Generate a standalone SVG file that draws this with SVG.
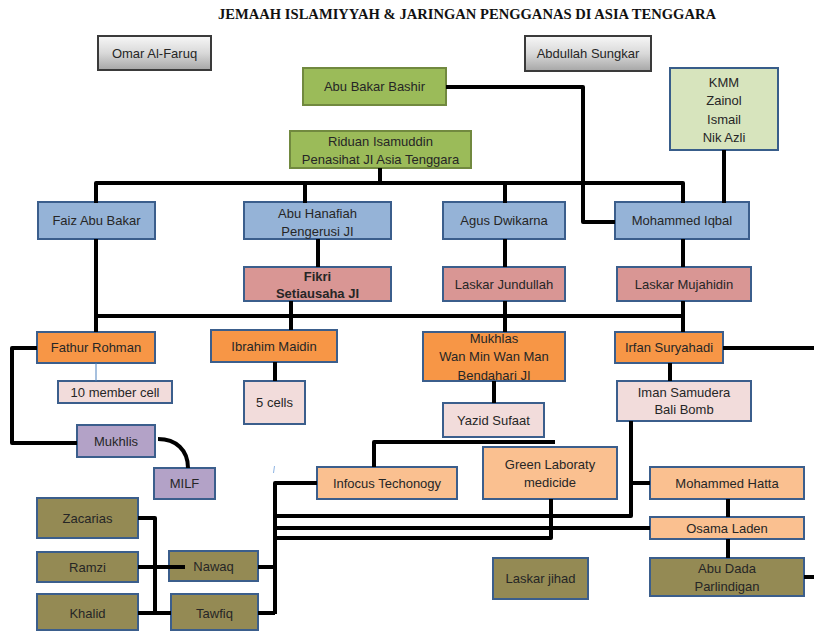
<svg xmlns="http://www.w3.org/2000/svg" width="814" height="631" viewBox="0 0 814 631">
<defs>
<linearGradient id="gray" x1="0" y1="0" x2="0" y2="1">
<stop offset="0" stop-color="#f7f7f7"/>
<stop offset="0.5" stop-color="#d9d9d9"/>
<stop offset="1" stop-color="#a6a6a6"/>
</linearGradient>
<style>
.t{font-family:"Liberation Sans",Arial,sans-serif;font-size:13px;fill:#262626;text-anchor:middle;dominant-baseline:central}
.title{font-family:"Liberation Serif","Times New Roman",serif;font-size:14px;font-weight:bold;fill:#111;text-anchor:middle}
rect{stroke-width:2}
.gry{fill:url(#gray);stroke:#3a3a3a}
.grn{fill:#9bbb59;stroke:#71893f}
.kmm{fill:#d7e4bd;stroke:#385d8a}
.blu{fill:#95b3d7;stroke:#3b5e8c}
.red{fill:#d99694;stroke:#3b5e8c}
.org{fill:#f79646;stroke:#3b5e8c}
.lor{fill:#fac090;stroke:#3b5e8c}
.lpk{fill:#f2dcdb;stroke:#3b5e8c}
.pur{fill:#b3a2c7;stroke:#3b5e8c}
.olv{fill:#948a54;stroke:#3b5e8c}
.c path{fill:none;stroke:#000;stroke-width:4;stroke-linejoin:round}
</style>
</defs>
<rect x="0" y="0" width="814" height="631" fill="#fff" stroke="none"/>
<text class="title" x="467" y="19" textLength="498" lengthAdjust="spacingAndGlyphs">JEMAAH ISLAMIYYAH &amp; JARINGAN PENGGANAS DI ASIA TENGGARA</text>

<g id="omar"><rect class="gry" x="98" y="36" width="113" height="34"/><text class="t" x="154.5" y="53">Omar Al-Faruq</text></g>
<g id="abdullah"><rect class="gry" x="525" y="36" width="126" height="35"/><text class="t" x="588" y="53.5">Abdullah Sungkar</text></g>
<g id="bashir"><rect class="grn" x="303" y="68" width="143" height="37"/><text class="t" x="374.5" y="86.5">Abu Bakar Bashir</text></g>
<g id="riduan"><rect class="grn" x="290" y="131" width="181" height="37"/><text class="t" x="380.5" y="141">Riduan Isamuddin</text><text class="t" x="380.5" y="159">Penasihat JI Asia Tenggara</text></g>
<g id="kmm"><rect class="kmm" x="670" y="68" width="108" height="82"/><text class="t" x="724" y="82">KMM</text><text class="t" x="724" y="100.5">Zainol</text><text class="t" x="724" y="119">Ismail</text><text class="t" x="724" y="137">Nik Azli</text></g>

<g id="faiz"><rect class="blu" x="38" y="202" width="117" height="37"/><text class="t" x="96.5" y="220.5">Faiz Abu Bakar</text></g>
<g id="hanafiah"><rect class="blu" x="244" y="202" width="147" height="37"/><text class="t" x="317.5" y="213">Abu Hanafiah</text><text class="t" x="317.5" y="231">Pengerusi JI</text></g>
<g id="agus"><rect class="blu" x="443" y="202" width="122" height="37"/><text class="t" x="504" y="220.5">Agus Dwikarna</text></g>
<g id="iqbal"><rect class="blu" x="615" y="202" width="134" height="37"/><text class="t" x="682" y="220.5">Mohammed Iqbal</text></g>

<g id="fikri"><rect class="red" x="244" y="267" width="147" height="34"/><text class="t" x="317.5" y="276" font-weight="bold">Fikri</text><text class="t" x="317.5" y="293" font-weight="bold">Setiausaha JI</text></g>
<g id="jundullah"><rect class="red" x="443" y="267" width="122" height="34"/><text class="t" x="504" y="284">Laskar Jundullah</text></g>
<g id="mujahidin"><rect class="red" x="617" y="267" width="134" height="34"/><text class="t" x="684" y="284">Laskar Mujahidin</text></g>

<g id="fathur"><rect class="org" x="37" y="332" width="118" height="31"/><text class="t" x="96" y="347.5">Fathur Rohman</text></g>
<g id="ibrahim"><rect class="org" x="211" y="330" width="126" height="32"/><text class="t" x="274" y="346">Ibrahim Maidin</text></g>
<g id="mukhlas"><rect class="org" x="423" y="332" width="142" height="49"/><text class="t" x="494" y="338">Mukhlas</text><text class="t" x="494" y="356">Wan Min Wan Man</text><text class="t" x="494" y="375">Bendahari JI</text></g>
<g id="irfan"><rect class="org" x="615" y="332" width="108" height="31"/><text class="t" x="669" y="347.5">Irfan Suryahadi</text></g>

<g id="member"><rect class="lpk" x="58" y="381" width="114" height="22"/><text class="t" x="115" y="392">10 member cell</text></g>
<g id="cells"><rect class="lpk" x="244" y="381" width="61" height="43"/><text class="t" x="274.5" y="402.5">5 cells</text></g>
<g id="yazid"><rect class="lpk" x="443" y="403" width="101" height="34"/><text class="t" x="493.5" y="420">Yazid Sufaat</text></g>
<g id="iman"><rect class="lpk" x="617" y="381" width="134" height="40"/><text class="t" x="684" y="392">Iman Samudera</text><text class="t" x="684" y="409">Bali Bomb</text></g>

<g id="mukhlis"><rect class="pur" x="77" y="425" width="78" height="32"/><text class="t" x="116" y="441">Mukhlis</text></g>
<g id="milf"><rect class="pur" x="154" y="468" width="61" height="31"/><text class="t" x="184.5" y="483.5">MILF</text></g>

<g id="infocus"><rect class="lor" x="317" y="467" width="140" height="32"/><text class="t" x="387" y="483">Infocus Techonogy</text></g>
<g id="greenlab"><rect class="lor" x="483" y="447" width="134" height="52"/><text class="t" x="550" y="464">Green Laboraty</text><text class="t" x="550" y="482">medicide</text></g>
<g id="hatta"><rect class="lor" x="650" y="467" width="154" height="32"/><text class="t" x="727" y="483">Mohammed Hatta</text></g>
<g id="osama"><rect class="lor" x="650" y="517" width="154" height="22"/><text class="t" x="727" y="528">Osama Laden</text></g>

<g id="abudada"><rect class="olv" x="650" y="558" width="154" height="38"/><text class="t" x="727" y="568">Abu Dada</text><text class="t" x="727" y="586">Parlindigan</text></g>
<g id="jihad"><rect class="olv" x="493" y="558" width="95" height="41"/><text class="t" x="540.5" y="578.5">Laskar jihad</text></g>
<g id="zacarias"><rect class="olv" x="37" y="498" width="101" height="40"/><text class="t" x="87.5" y="518">Zacarias</text></g>
<g id="ramzi"><rect class="olv" x="37" y="552" width="101" height="30"/><text class="t" x="87.5" y="567">Ramzi</text></g>
<g id="khalid"><rect class="olv" x="37" y="594" width="101" height="36"/><text class="t" x="87.5" y="613">Khalid</text></g>
<g id="nawaq"><rect class="olv" x="169" y="551" width="89" height="30"/><text class="t" x="213.5" y="566">Nawaq</text></g>
<g id="tawfiq"><rect class="olv" x="171" y="594" width="87" height="36"/><text class="t" x="214.5" y="613">Tawfiq</text></g>

<g id="connectors" class="c">
<path d="M446 87 H583 V222 H615"/>
<path d="M724 150 V203"/>
<path d="M380 168 V183"/>
<path d="M96 203 V183 H683 V203"/>
<path d="M305 183 V203"/>
<path d="M505 183 V203"/>
<path d="M318 239 V267"/>
<path d="M505 239 V267"/>
<path d="M683 239 V267"/>
<path d="M96 239 V332"/>
<path d="M96 316 H683"/>
<path d="M291 301 V330"/>
<path d="M505 301 V332"/>
<path d="M683 301 V332"/>
<path d="M96 363 V381" style="stroke:#4f81bd;stroke-width:1"/>
<path d="M275 362 V381"/>
<path d="M37 348 H12 V443 H77"/>
<path d="M158 439 C176 439 188 450 188 468"/>
<path d="M723 348 H814"/>
<path d="M670 363 V381"/>
<path d="M494 381 V403"/>
<path d="M555 442 H374 V467"/>
<path d="M317 483 H275 V614"/>
<path d="M631 421 V516 H275"/>
<path d="M631 483 H650"/>
<path d="M650 528 H275"/>
<path d="M551 499 V538 H275"/>
<path d="M728 499 V517"/>
<path d="M728 539 V558"/>
<path d="M804 577 H814"/>
<path d="M258 567 H275"/>
<path d="M258 613 H275"/>
<path d="M138 518 H155 V613"/>
<path d="M138 567 H185"/>
<path d="M138 613 H171"/>
<path d="M274.5 466 L273.5 473" style="stroke:#8eb4e3;stroke-width:1"/>
</g>
</svg>
